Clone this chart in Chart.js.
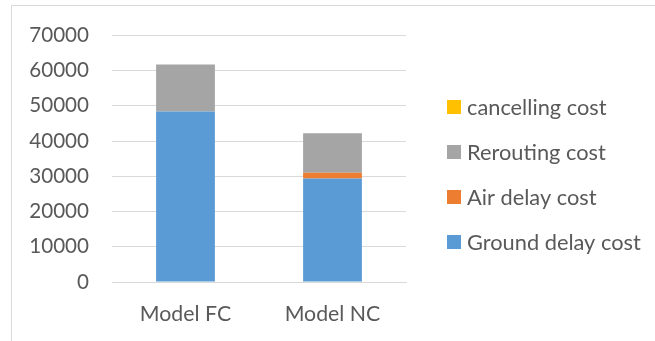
<!DOCTYPE html>
<html>
<head>
<meta charset="utf-8">
<script src="https://cdn.jsdelivr.net/npm/chart.js@4/dist/chart.umd.min.js"></script>
<style>
  html, body { margin: 0; padding: 0; background: #fff; }
  #wrap { position: relative; width: 655px; height: 341px; }
  #frame { position: absolute; left: 11px; top: 5px; right: 0; bottom: 0;
           border-left: 1px solid #d9d9d9; border-top: 1px solid #d9d9d9; }
  canvas { position: absolute; left: 0; top: 0; }
</style>
</head>
<body>
<div id="wrap">
  <div id="frame"></div>
  <canvas id="c" width="655" height="341"></canvas>
</div>
<script>
const categories = ['Model FC', 'Model NC'];
const groundDelayCost = [48400, 29400];
const airDelayCost = [0, 1600];
const reroutingCost = [13300, 11200];
const cancellingCost = [0, 0];
const yTicks = [0, 10000, 20000, 30000, 40000, 50000, 60000, 70000];

const FONT = 'Lato, "Open Sans", sans-serif';
const TEXT = '#595959';

// Legend on the right: stacked top-down in reverse dataset order
const sideLegend = {
  id: 'sideLegend',
  afterDraw(chart) {
    const ctx = chart.ctx;
    const sets = chart.data.datasets.slice().reverse();
    const boxX = 447, textX = 467, firstY = 107, step = 45, box = 14;
    ctx.save();
    ctx.font = '21.8px ' + FONT;
    ctx.textBaseline = 'middle';
    ctx.textAlign = 'left';
    sets.forEach((ds, i) => {
      const cy = firstY + i * step;
      ctx.fillStyle = ds.backgroundColor;
      ctx.fillRect(boxX, cy - box / 2, box, box);
      ctx.fillStyle = TEXT;
      ctx.fillText(ds.label, textX, cy + 1);
    });
    ctx.restore();
  }
};

new Chart(document.getElementById('c'), {
  type: 'bar',
  data: {
    labels: categories,
    datasets: [
      { label: 'Ground delay cost', data: groundDelayCost, backgroundColor: '#5B9BD5' },
      { label: 'Air delay cost', data: airDelayCost, backgroundColor: '#ED7D31' },
      { label: 'Rerouting cost', data: reroutingCost, backgroundColor: '#A5A5A5' },
      { label: 'cancelling cost', data: cancellingCost, backgroundColor: '#FFC000' }
    ]
  },
  options: {
    responsive: false,
    animation: false,
    layout: { padding: { left: 12, top: 33, right: 249, bottom: 0 } },
    datasets: { bar: { categoryPercentage: 1, barPercentage: 0.4 } },
    scales: {
      x: {
        stacked: true,
        grid: { display: false },
        border: { color: '#d9d9d9', width: 1 },
        ticks: { color: TEXT, font: { family: FONT, size: 21.3 }, padding: 11 },
        afterFit: s => { s.height = 59; }
      },
      y: {
        stacked: true,
        min: 0, max: 70000,
        afterBuildTicks: s => { s.ticks = yTicks.map(v => ({ value: v })); },
        grid: { color: '#d9d9d9', drawTicks: false },
        border: { display: false },
        ticks: {
          color: TEXT, font: { family: FONT, size: 20.6 }, padding: 23,
          callback: v => String(v)
        },
        afterFit: s => { s.width = 100; }
      }
    },
    plugins: {
      legend: { display: false },
      tooltip: { enabled: false }
    }
  },
  plugins: [sideLegend]
});
</script>
</body>
</html>
